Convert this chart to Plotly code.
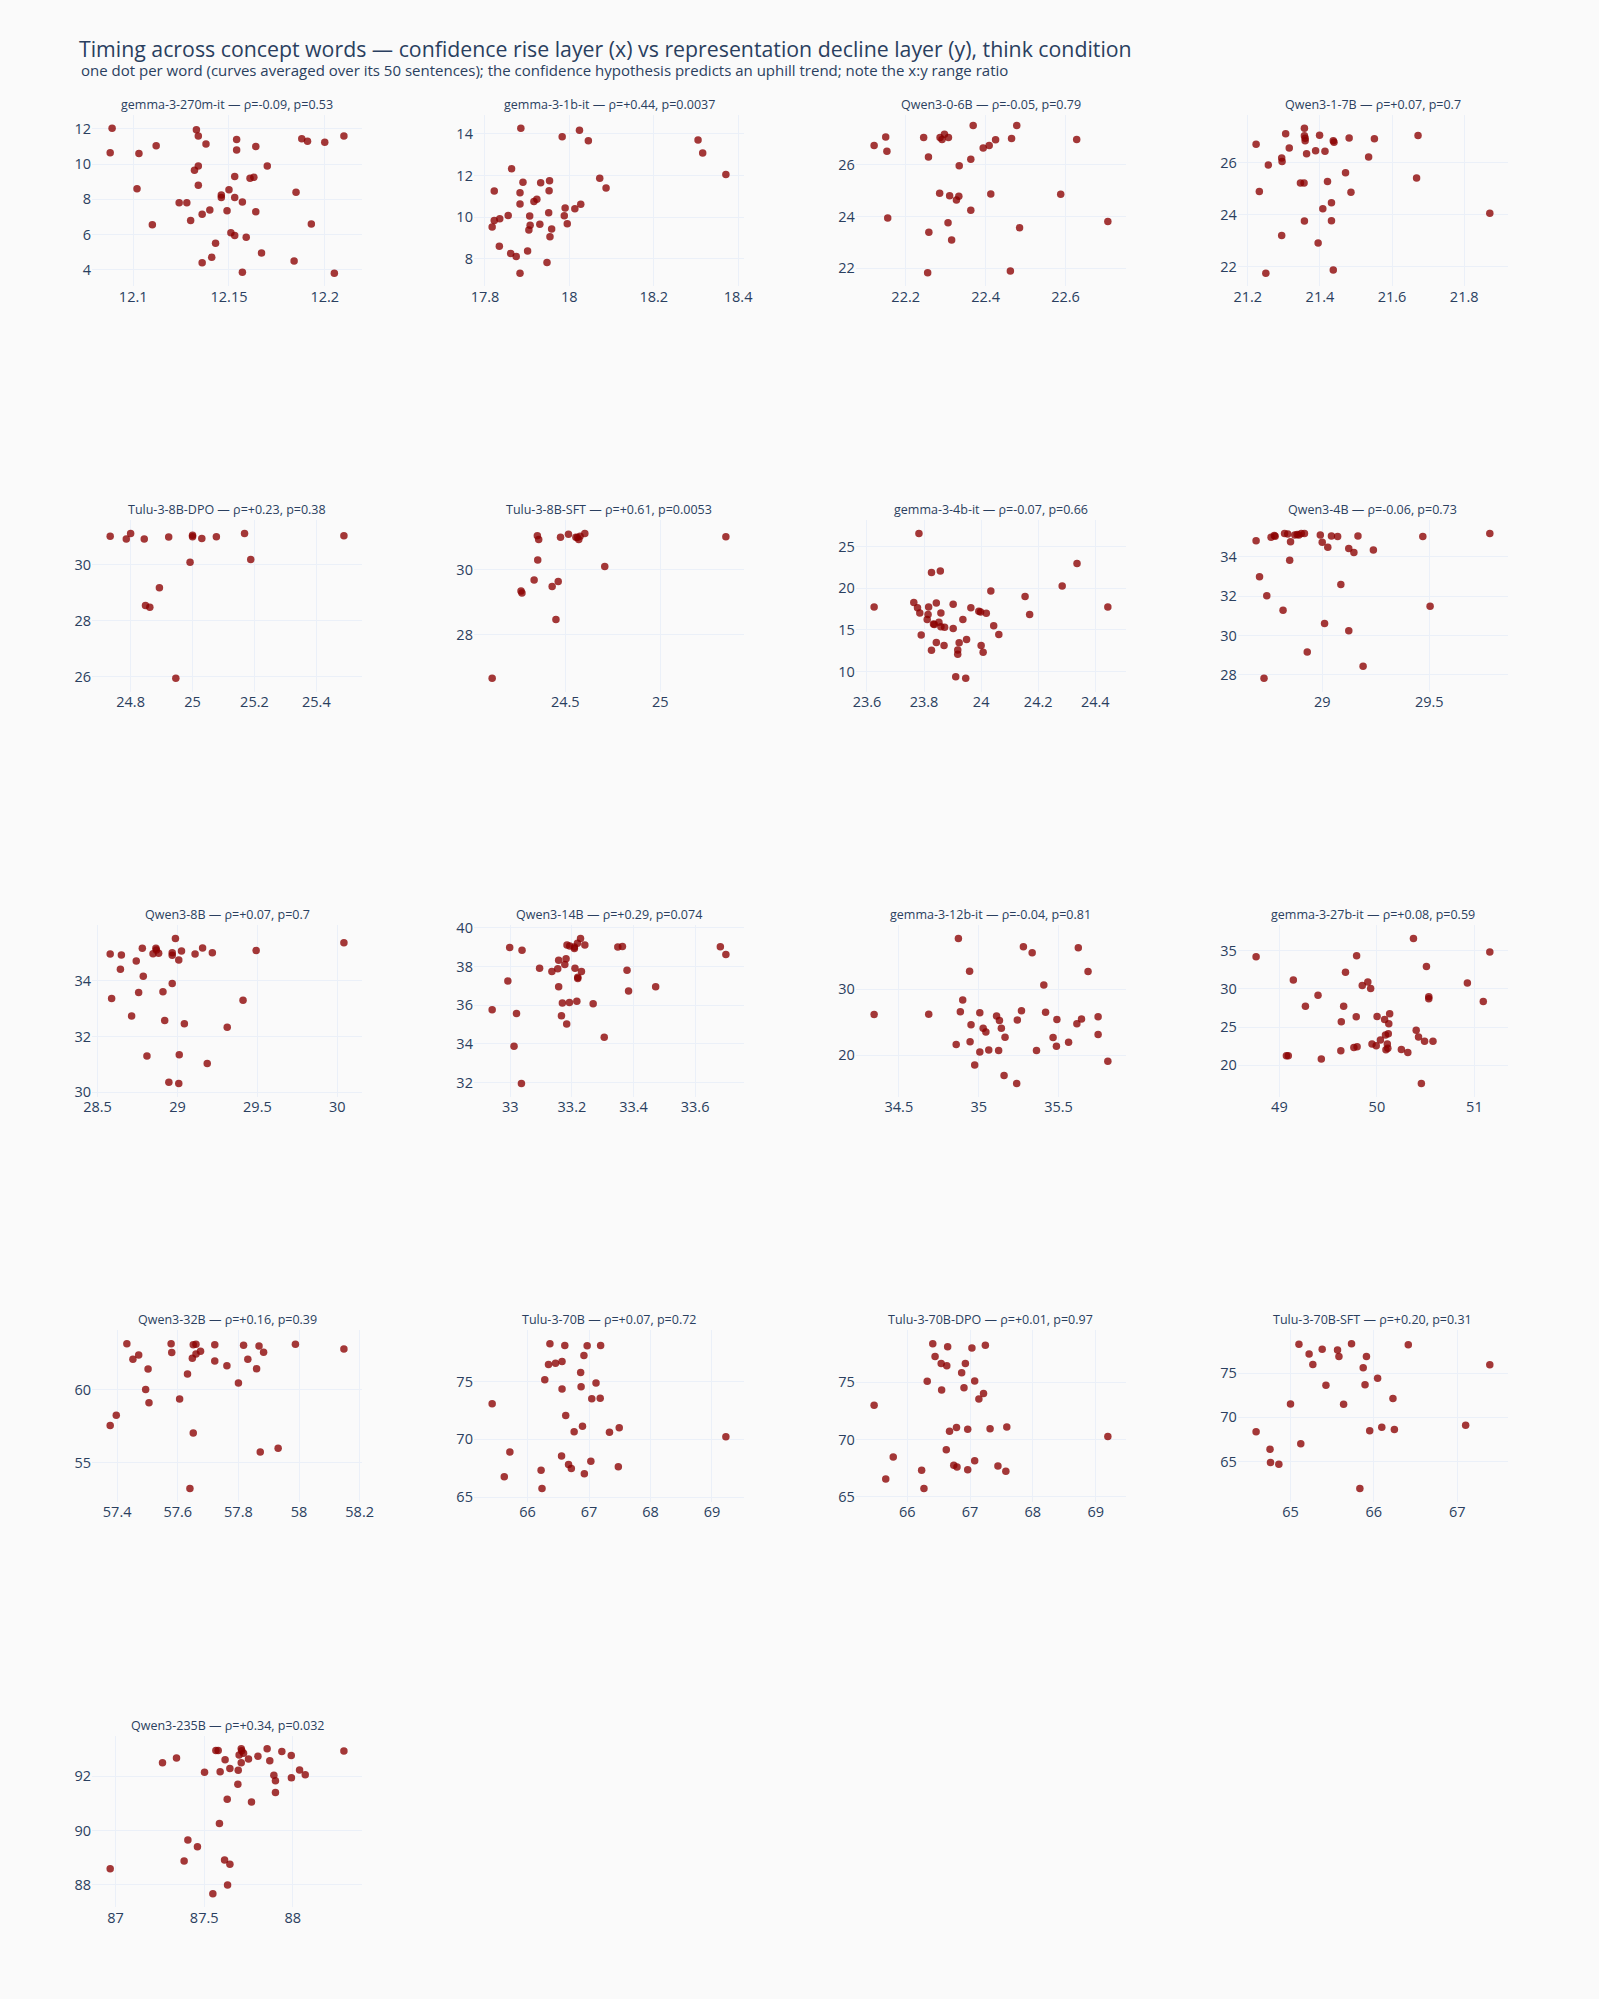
import plotly.graph_objects as go
from plotly.subplots import make_subplots

# one dot per concept word: x = confidence rise layer, y = representation decline layer
g270m_x = [12.089, 12.088, 12.103, 12.112, 12.102, 12.110, 12.124, 12.128, 12.130, 12.133, 12.134, 12.138,
           12.132, 12.134, 12.134, 12.136, 12.140, 12.136, 12.141, 12.143, 12.146, 12.146, 12.149, 12.150,
           12.153, 12.153, 12.154, 12.154, 12.151, 12.153, 12.157, 12.159, 12.157, 12.161, 12.163, 12.164,
           12.164, 12.167, 12.170, 12.184, 12.185, 12.188, 12.191, 12.193, 12.200, 12.205, 12.210]
g270m_y = [12.04, 10.65, 10.6, 11.05, 8.6, 6.55, 7.8, 7.8, 6.8, 11.95, 11.6, 11.15,
           9.65, 9.9, 8.8, 7.15, 7.4, 4.4, 4.7, 5.5, 8.25, 8.1, 7.35, 8.55,
           8.1, 9.3, 11.4, 10.8, 6.1, 5.95, 7.85, 5.85, 3.85, 9.2, 9.25, 11.0,
           7.3, 4.95, 9.9, 4.5, 8.4, 11.45, 11.3, 6.6, 11.25, 3.8, 11.6]

g1b_x = [17.885, 17.983, 18.024, 18.045, 18.305, 18.316, 18.371, 17.863, 17.822, 17.890, 17.883, 17.932,
         17.953, 17.952, 18.072, 18.087, 17.883, 17.916, 17.923, 17.855, 17.835, 17.822, 17.817, 17.906,
         17.951, 17.990, 17.988, 18.013, 18.027, 17.995, 17.907, 17.904, 17.930, 17.958, 17.954, 17.834,
         17.861, 17.874, 17.901, 17.947, 17.883]
g1b_y = [14.27, 13.86, 14.17, 13.67, 13.70, 13.08, 12.05, 12.32, 11.25, 11.67, 11.17, 11.65,
         11.75, 11.27, 11.87, 11.40, 10.63, 10.75, 10.86, 10.08, 9.92, 9.84, 9.52, 10.05,
         10.21, 10.44, 10.06, 10.40, 10.62, 9.68, 9.60, 9.38, 9.65, 9.43, 9.05, 8.60,
         8.25, 8.10, 8.37, 7.81, 7.30]

q06_x = [22.121, 22.150, 22.153, 22.155, 22.245, 22.257, 22.258, 22.255, 22.286, 22.291, 22.297, 22.307,
         22.285, 22.310, 22.306, 22.315, 22.333, 22.327, 22.334, 22.363, 22.369, 22.363, 22.394, 22.409,
         22.425, 22.413, 22.465, 22.478, 22.485, 22.462, 22.588, 22.628, 22.706]
q06_y = [26.74, 27.07, 26.52, 23.94, 27.05, 26.30, 23.39, 21.83, 27.05, 26.97, 27.18, 27.05,
         24.90, 24.80, 23.76, 23.09, 24.78, 24.64, 25.96, 26.21, 27.51, 24.24, 26.65, 26.74,
         26.96, 24.87, 27.01, 27.51, 23.57, 21.90, 24.86, 26.97, 23.81]

q17_x = [21.223, 21.305, 21.357, 21.357, 21.359, 21.359, 21.399, 21.315, 21.388, 21.414, 21.437, 21.439,
         21.481, 21.551, 21.672, 21.363, 21.294, 21.295, 21.257, 21.535, 21.471, 21.346, 21.356, 21.421,
         21.668, 21.232, 21.486, 21.432, 21.408, 21.871, 21.357, 21.432, 21.294, 21.395, 21.250, 21.437]
q17_y = [26.71, 27.11, 27.32, 27.03, 26.94, 26.84, 27.05, 26.56, 26.46, 26.44, 26.84, 26.78,
         26.95, 26.92, 27.04, 26.34, 26.18, 26.04, 25.91, 26.22, 25.61, 25.22, 25.22, 25.27,
         25.41, 24.89, 24.86, 24.46, 24.23, 24.05, 23.76, 23.77, 23.20, 22.91, 21.75, 21.87]

t8dpo_x = [24.734, 24.786, 24.800, 24.844, 24.923, 25.000, 25.000, 25.030, 25.077, 25.168, 25.489,
           24.992, 25.188, 24.893, 24.848, 24.862, 24.946]
t8dpo_y = [31.02, 30.92, 31.12, 30.92, 30.99, 31.05, 31.00, 30.94, 31.00, 31.12, 31.04,
           30.09, 30.19, 29.18, 28.55, 28.49, 25.95]

t8sft_x = [24.115, 24.267, 24.272, 24.336, 24.353, 24.360, 24.355, 24.431, 24.463, 24.451, 24.475,
           24.517, 24.556, 24.564, 24.571, 24.578, 24.603, 24.708, 25.346]
t8sft_y = [26.65, 29.35, 29.29, 29.69, 31.06, 30.94, 30.31, 29.49, 29.64, 28.47, 31.01,
           31.10, 31.01, 31.00, 30.94, 31.04, 31.13, 30.11, 31.03]

g4b_x = [23.625, 23.782, 23.764, 23.777, 23.785, 23.790, 23.816, 23.814, 23.811, 23.826, 23.857, 23.843,
         23.833, 23.836, 23.843, 23.826, 23.859, 23.852, 23.859, 23.870, 23.872, 23.902, 23.902, 23.936,
         23.923, 23.918, 23.918, 23.911, 23.946, 23.949, 23.964, 23.992, 23.998, 24.018, 24.000, 24.007,
         24.034, 24.044, 24.062, 24.154, 24.170, 24.284, 24.336, 24.444]
g4b_y = [17.74, 26.59, 18.29, 17.66, 17.02, 14.37, 17.74, 16.83, 16.23, 21.90, 22.06, 18.21,
         15.71, 15.63, 13.49, 12.54, 17.02, 15.91, 15.36, 13.13, 15.32, 18.06, 15.16, 16.23,
         13.45, 12.58, 12.06, 9.37, 9.17, 13.85, 17.66, 17.22, 17.14, 16.98, 13.13, 12.30,
         19.68, 15.48, 14.44, 19.01, 16.83, 20.28, 22.98, 17.74]

q4b_x = [28.691, 28.707, 28.728, 28.741, 28.761, 28.776, 28.780, 28.817, 28.824, 28.839, 28.848, 28.852,
         28.872, 28.883, 28.891, 28.902, 28.917, 28.930, 28.991, 29.000, 29.011, 29.026, 29.043, 29.072,
         29.087, 29.124, 29.124, 29.148, 29.167, 29.191, 29.239, 29.470, 29.504, 29.783]
q4b_y = [34.81, 32.99, 27.82, 32.02, 34.99, 35.08, 35.04, 31.28, 35.19, 35.16, 33.82, 34.76,
         35.11, 35.14, 35.11, 35.18, 35.19, 29.16, 35.11, 34.74, 30.61, 34.49, 35.06, 35.03,
         32.59, 34.42, 30.24, 34.22, 35.06, 28.44, 34.34, 35.03, 31.48, 35.18]

q8b_x = [28.579, 28.588, 28.643, 28.649, 28.713, 28.742, 28.757, 28.780, 28.786, 28.809, 28.847, 28.865,
         28.868, 28.882, 28.909, 28.920, 28.946, 28.967, 28.967, 28.967, 28.987, 29.008, 29.025, 29.008,
         29.011, 29.043, 29.110, 29.157, 29.186, 29.218, 29.311, 29.410, 29.492, 30.041]
q8b_y = [34.95, 33.36, 34.40, 34.91, 32.73, 34.70, 33.57, 35.15, 34.15, 31.30, 34.96, 35.15,
         35.09, 34.97, 33.60, 32.57, 30.36, 34.99, 34.90, 33.89, 35.50, 34.73, 35.05, 30.32,
         31.35, 32.45, 34.95, 35.16, 31.03, 34.99, 32.33, 33.29, 35.07, 35.35]

q14b_x = [32.941, 32.992, 32.998, 33.012, 33.020, 33.038, 33.036, 33.095, 33.135, 33.154, 33.157, 33.157,
          33.166, 33.169, 33.177, 33.181, 33.183, 33.184, 33.192, 33.193, 33.208, 33.208, 33.210, 33.216,
          33.218, 33.219, 33.219, 33.228, 33.231, 33.242, 33.269, 33.305, 33.349, 33.364, 33.379, 33.384,
          33.472, 33.682, 33.700]
q14b_y = [35.76, 37.25, 38.99, 33.88, 35.57, 38.84, 31.95, 37.91, 37.74, 37.88, 36.96, 38.32,
          35.45, 36.12, 38.10, 38.41, 35.03, 39.11, 36.14, 39.06, 39.01, 38.94, 37.91, 36.21,
          39.20, 37.44, 37.38, 39.45, 37.74, 39.11, 36.07, 34.34, 39.01, 39.04, 37.81, 36.74,
          36.96, 39.03, 38.63]

g12b_x = [34.345, 34.687, 34.859, 34.873, 34.885, 34.900, 34.943, 34.946, 34.952, 34.975, 35.007, 35.007,
          35.028, 35.045, 35.063, 35.112, 35.130, 35.125, 35.142, 35.159, 35.165, 35.238, 35.242, 35.268,
          35.280, 35.335, 35.362, 35.408, 35.419, 35.466, 35.490, 35.487, 35.563, 35.615, 35.624, 35.644,
          35.685, 35.748, 35.748, 35.809]
g12b_y = [26.15, 26.2, 21.6, 37.65, 26.55, 28.35, 32.7, 22.0, 24.6, 18.5, 20.45, 26.4,
          24.05, 23.5, 20.75, 25.9, 25.25, 20.7, 24.05, 16.9, 22.7, 15.7, 25.3, 26.7,
          36.4, 35.5, 20.7, 30.6, 26.5, 22.65, 25.4, 21.35, 21.95, 24.75, 36.25, 25.45,
          32.65, 25.8, 23.1, 19.05]

g27b_x = [48.761, 49.072, 49.091, 49.143, 49.267, 49.396, 49.430, 49.630, 49.635, 49.659, 49.678, 49.764,
          49.797, 49.788, 49.792, 49.850, 49.907, 49.936, 49.950, 49.993, 50.002, 50.036, 50.079, 50.088,
          50.093, 50.107, 50.112, 50.122, 50.117, 50.131, 50.251, 50.317, 50.375, 50.403, 50.427, 50.456,
          50.489, 50.508, 50.532, 50.532, 50.575, 50.928, 51.091, 51.158]
g27b_y = [34.22, 21.23, 21.23, 31.15, 27.73, 29.16, 20.80, 21.88, 25.69, 27.73, 32.19, 22.32,
          22.40, 26.34, 34.35, 30.45, 30.89, 30.06, 22.79, 22.53, 26.39, 23.31, 26.0, 23.96,
          22.01, 22.79, 22.23, 25.43, 24.13, 26.73, 22.06, 21.67, 36.60, 24.57, 23.70, 17.60,
          23.14, 32.92, 28.98, 28.72, 23.14, 30.76, 28.33, 34.83]

q32b_x = [57.377, 57.397, 57.432, 57.452, 57.471, 57.502, 57.494, 57.505, 57.578, 57.580, 57.606, 57.632,
          57.648, 57.651, 57.660, 57.660, 57.675, 57.651, 57.640, 57.722, 57.722, 57.762, 57.800, 57.817,
          57.831, 57.860, 57.868, 57.883, 57.872, 57.931, 57.988, 58.148]
q32b_y = [57.55, 58.24, 63.13, 62.07, 62.36, 61.40, 60.0, 59.10, 63.13, 62.52, 59.35, 61.06,
          62.14, 63.06, 63.09, 62.43, 62.61, 57.03, 53.24, 63.06, 61.94, 61.62, 60.45, 63.02,
          62.07, 61.42, 62.97, 62.55, 55.74, 55.99, 63.09, 62.77]

t70_x = [65.424, 65.712, 65.621, 66.220, 66.235, 66.280, 66.341, 66.364, 66.455, 66.561, 66.561, 66.553,
         66.606, 66.621, 66.667, 66.712, 66.758, 66.864, 66.871, 66.894, 66.917, 66.924, 66.970, 67.030,
         67.045, 67.114, 67.189, 67.182, 67.333, 67.477, 67.492, 69.227]
t70_y = [73.09, 68.91, 66.77, 67.34, 65.74, 75.17, 76.49, 78.29, 76.60, 76.74, 74.37, 68.57,
         78.14, 72.06, 67.83, 67.49, 70.66, 75.80, 74.57, 71.14, 77.26, 67.03, 78.11, 68.11,
         73.51, 74.89, 78.14, 73.57, 70.63, 67.63, 71.00, 70.23]

t70dpo_x = [65.474, 65.659, 65.778, 66.230, 66.267, 66.319, 66.407, 66.444, 66.548, 66.541, 66.630, 66.644,
            66.622, 66.674, 66.741, 66.785, 66.793, 66.867, 66.904, 66.926, 66.963, 66.963, 67.030, 67.074,
            67.074, 67.141, 67.215, 67.244, 67.319, 67.444, 67.570, 67.585, 69.193]
t70dpo_y = [72.99, 66.55, 68.48, 67.33, 65.72, 75.09, 78.36, 77.24, 74.31, 76.64, 76.44, 78.10,
            69.11, 70.72, 67.76, 71.06, 67.61, 75.83, 74.51, 76.64, 70.89, 67.36, 77.99, 75.11,
            68.16, 73.53, 74.02, 78.22, 70.95, 67.70, 67.24, 71.09, 70.26]

t70sft_x = [64.587, 64.754, 64.760, 64.860, 65.000, 65.101, 65.123, 65.223, 65.268, 65.380, 65.425, 65.564,
            65.581, 65.637, 65.732, 65.872, 65.894, 65.911, 65.832, 65.950, 66.045, 66.095, 66.229, 66.246,
            66.413, 67.101, 67.391]
t70sft_y = [68.36, 66.38, 64.89, 64.70, 71.49, 78.25, 67.01, 77.16, 75.97, 77.69, 73.62, 77.61,
            76.87, 71.46, 78.32, 75.60, 73.69, 76.87, 61.94, 68.47, 74.40, 68.88, 72.13, 68.62,
            78.21, 69.10, 75.93]

q235b_x = [86.970, 87.265, 87.344, 87.387, 87.408, 87.462, 87.502, 87.549, 87.566, 87.579, 87.586, 87.590,
           87.615, 87.618, 87.630, 87.632, 87.645, 87.645, 87.690, 87.692, 87.697, 87.709, 87.709, 87.712,
           87.722, 87.750, 87.767, 87.803, 87.855, 87.870, 87.893, 87.902, 87.902, 87.938, 87.991, 87.992,
           88.038, 88.070, 88.288]
q235b_y = [88.59, 92.50, 92.67, 88.88, 89.65, 89.40, 92.15, 87.67, 92.95, 92.95, 90.26, 92.16,
           88.91, 92.61, 91.15, 87.99, 88.76, 92.28, 91.70, 92.22, 92.78, 92.50, 93.01, 92.94,
           92.85, 92.63, 91.05, 92.74, 93.01, 92.57, 92.04, 91.83, 91.40, 92.91, 92.76, 91.94,
           92.23, 92.05, 92.93]

titles = [
    "gemma-3-270m-it — ρ=-0.09, p=0.53",
    "gemma-3-1b-it — ρ=+0.44, p=0.0037",
    "Qwen3-0-6B — ρ=-0.05, p=0.79",
    "Qwen3-1-7B — ρ=+0.07, p=0.7",
    "Tulu-3-8B-DPO — ρ=+0.23, p=0.38",
    "Tulu-3-8B-SFT — ρ=+0.61, p=0.0053",
    "gemma-3-4b-it — ρ=-0.07, p=0.66",
    "Qwen3-4B — ρ=-0.06, p=0.73",
    "Qwen3-8B — ρ=+0.07, p=0.7",
    "Qwen3-14B — ρ=+0.29, p=0.074",
    "gemma-3-12b-it — ρ=-0.04, p=0.81",
    "gemma-3-27b-it — ρ=+0.08, p=0.59",
    "Qwen3-32B — ρ=+0.16, p=0.39",
    "Tulu-3-70B — ρ=+0.07, p=0.72",
    "Tulu-3-70B-DPO — ρ=+0.01, p=0.97",
    "Tulu-3-70B-SFT — ρ=+0.20, p=0.31",
    "Qwen3-235B — ρ=+0.34, p=0.032",
]

series = [
    (g270m_x, g270m_y), (g1b_x, g1b_y), (q06_x, q06_y), (q17_x, q17_y),
    (t8dpo_x, t8dpo_y), (t8sft_x, t8sft_y), (g4b_x, g4b_y), (q4b_x, q4b_y),
    (q8b_x, q8b_y), (q14b_x, q14b_y), (g12b_x, g12b_y), (g27b_x, g27b_y),
    (q32b_x, q32b_y), (t70_x, t70_y), (t70dpo_x, t70dpo_y), (t70sft_x, t70sft_y),
    (q235b_x, q235b_y),
]

BG = "#fafafa"
GRID = "#EBF0F8"
ncols = 4
nrows = 5
specs = [[{} for _ in range(ncols)] for _ in range(nrows)]
for c in range(1, ncols):
    specs[4][c] = None

fig = make_subplots(
    rows=nrows, cols=ncols, specs=specs, subplot_titles=titles,
    horizontal_spacing=0.079, vertical_spacing=0.1304,
)

for i, (xs, ys) in enumerate(series):
    r, c = i // ncols + 1, i % ncols + 1
    fig.add_trace(
        go.Scatter(
            x=xs, y=ys, mode="markers",
            marker=dict(color="darkred", size=7.5, opacity=0.78),
            showlegend=False,
        ),
        row=r, col=c,
    )

for ann in fig.layout.annotations:
    ann.font = dict(size=12.5, color="#2a3f5f")

fig.update_xaxes(gridcolor=GRID, zeroline=False, showline=False, tickfont=dict(size=14.5))
fig.update_yaxes(gridcolor=GRID, zeroline=False, showline=False, tickfont=dict(size=14.5))

# a few axes where the original's tick choice differs from plain autorange
fig.update_yaxes(range=[21.3, 27.92], row=1, col=3)
fig.update_yaxes(dtick=2, row=2, col=2)
fig.update_yaxes(dtick=10, row=3, col=3)

fig.add_annotation(
    text="one dot per word (curves averaged over its 50 sentences); the confidence hypothesis predicts an uphill trend; note the x:y range ratio",
    xref="paper", yref="paper", x=-0.0092, y=1.0251,
    xanchor="left", yanchor="middle", showarrow=False,
    font=dict(size=15, color="#2a3f5f"),
)

fig.update_layout(
    template="plotly_white",
    paper_bgcolor=BG,
    plot_bgcolor=BG,
    margin=dict(l=92, r=91, t=115, b=92),
    title=dict(
        text="Timing across concept words — confidence rise layer (x) vs representation decline layer (y), think condition",
        x=0.0494, xanchor="left", xref="container",
        y=0.975, yanchor="middle", yref="container",
        font=dict(size=21.3, color="#2a3f5f"),
    ),
)

# let the figure fill the whole page, without the browser's default body margin
page_js = (
    "document.body.style.margin='0';"
    "document.body.style.background='" + BG + "';"
    "Plotly.Plots.resize(document.getElementById('{plot_id}'));"
)
fig.write_html("out.html", post_script=page_js, config={"displayModeBar": False})
